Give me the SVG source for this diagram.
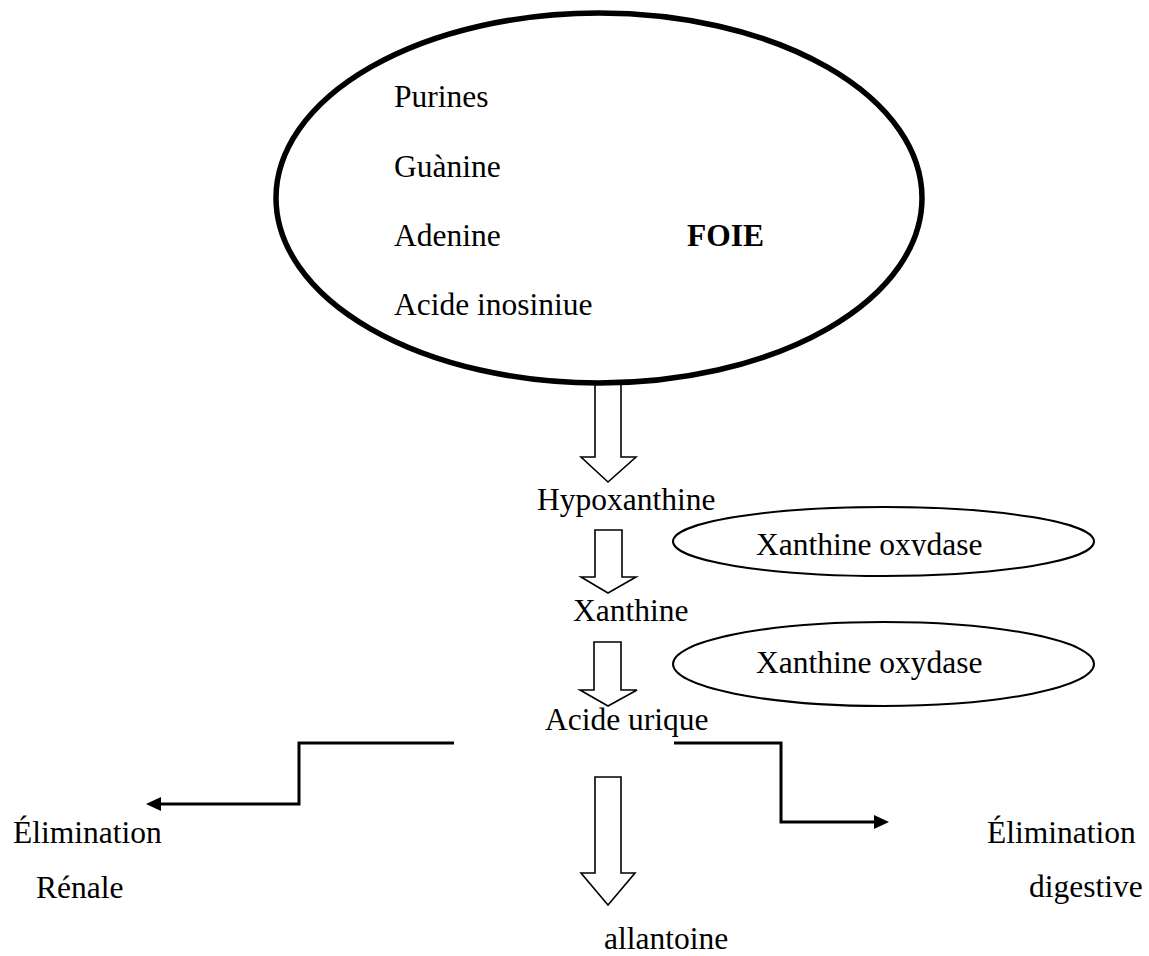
<svg xmlns="http://www.w3.org/2000/svg" width="1149" height="956" viewBox="0 0 1149 956">
<style>
text{font-family:"Liberation Serif","Times New Roman",serif;font-size:31.5px;fill:#000}
.bold{font-weight:bold}
.block{fill:#fff;stroke:#000;stroke-width:1.6;stroke-linejoin:miter}
.conn{fill:none;stroke:#000;stroke-width:3}
.enz{fill:#fff;stroke:#000;stroke-width:2}
</style>
<defs>
<marker id="head" markerUnits="userSpaceOnUse" viewBox="0 0 15 14" markerWidth="15" markerHeight="14" refX="5" refY="7" orient="auto">
<path d="M0,0 L15,7 L0,14 Z" fill="#000"/>
</marker>
<clipPath id="clip1"><rect x="600" y="500" width="520" height="56"/></clipPath>
</defs>
<rect width="1149" height="956" fill="#fff"/>
<g id="connectors">
<path class="block" d="M595,380 H621 V457 H636 L608,482 L581,457 H595 Z"/>
<path class="block" d="M595,530 H622 V577 H636 L608,593 L581,577 H595 Z"/>
<path class="block" d="M594,642 H621 V690 H637 L608,706 L580,690 H594 Z"/>
<path class="block" d="M595,777 H621 V873 H635 L608,905 L581,873 H595 Z"/>
<path class="conn" d="M454,743 H299 V804 H156" marker-end="url(#head)"/>
<path class="conn" d="M674,743 H781 V822 H879" marker-end="url(#head)"/>
</g>
<g id="foie">
<ellipse cx="599" cy="198" rx="323" ry="185" fill="#fff" stroke="#000" stroke-width="5.5"/>
<text x="394" y="107">Purines</text>
<text x="394" y="177">Guànine</text>
<text x="394" y="246">Adenine</text>
<text x="394" y="315">Acide inosiniue</text>
<text class="bold" x="687" y="246">FOIE</text>
</g>
<g id="hypoxanthine"><text x="537" y="510">Hypoxanthine</text></g>
<g id="enzyme1">
<ellipse class="enz" cx="883.5" cy="541.5" rx="210.5" ry="34.5"/>
<text x="756" y="555" clip-path="url(#clip1)">Xanthine oxydase</text>
</g>
<g id="xanthine"><text x="573" y="621">Xanthine</text></g>
<g id="enzyme2">
<ellipse class="enz" cx="883.5" cy="664" rx="210.5" ry="42"/>
<text x="756" y="673">Xanthine oxydase</text>
</g>
<g id="acide-urique"><text x="545" y="730">Acide urique</text></g>
<g id="elim-renale">
<text x="13" y="843">Élimination</text>
<text x="36" y="898">Rénale</text>
</g>
<g id="elim-digestive">
<text x="987" y="843">Élimination</text>
<text x="1029" y="897">digestive</text>
</g>
<g id="allantoine"><text x="604" y="949">allantoine</text></g>
</svg>
